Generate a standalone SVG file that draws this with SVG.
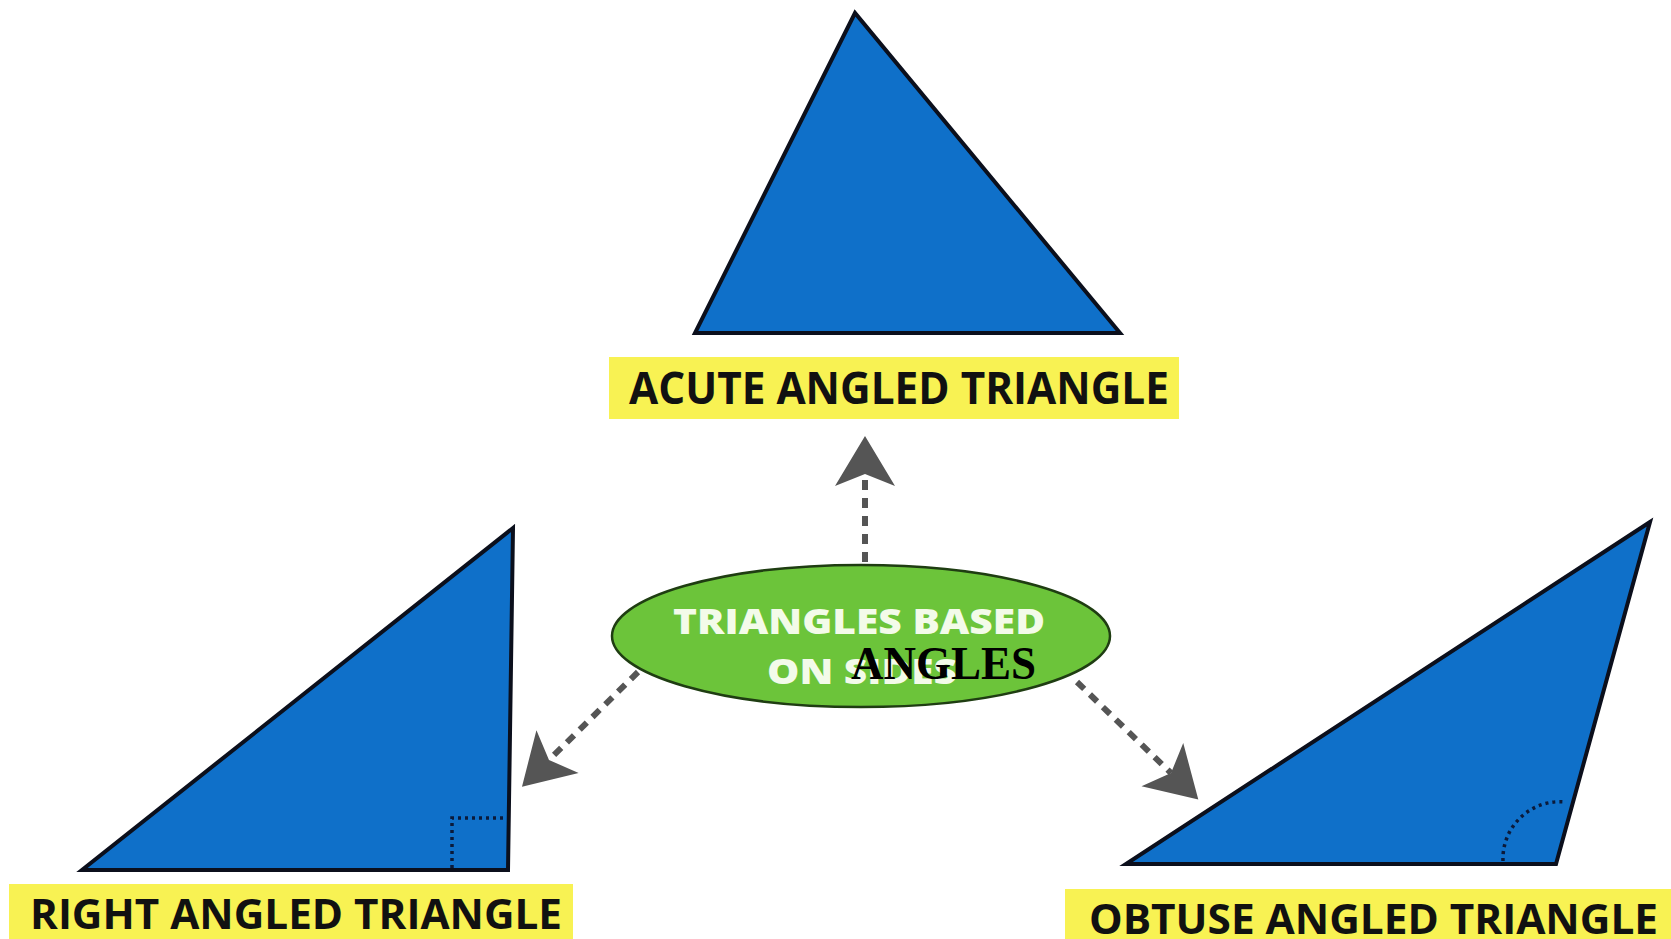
<svg xmlns="http://www.w3.org/2000/svg" width="1671" height="939" viewBox="0 0 1671 939">
<style>
.tri{fill:#0f70c9;stroke:#0b0f1c;stroke-width:4;stroke-linejoin:miter}
.lblbox{fill:#f8f253}
.lbl{font-family:"Open Sans","Liberation Sans",sans-serif;font-weight:bold;fill:#111;}
.conn{fill:none;stroke:#555;stroke-width:6;stroke-dasharray:10 8}
.mark{fill:none;stroke:#0b1a3a;stroke-width:3.5;stroke-dasharray:3 4}
.wt{font-family:"Open Sans","Liberation Sans",sans-serif;font-weight:800;fill:#f3fbe9;font-size:36px}
</style>
<defs>
<marker id="ah" markerUnits="userSpaceOnUse" viewBox="-52 -32 54 64" markerWidth="54" markerHeight="64" refX="-38" refY="0" orient="auto">
<path d="M0,0 L-50,-30 L-38,0 L-50,30 Z" fill="#555"/>
</marker>
</defs>
<rect width="1671" height="939" fill="#fff"/>
<g id="connectors">
<path class="conn" d="M865,562 L865,474" marker-end="url(#ah)"/>
<path class="conn" d="M638,672 L549,760" marker-end="url(#ah)"/>
<path class="conn" d="M1077,682 L1171,773" marker-end="url(#ah)"/>
</g>
<g id="acute">
<polygon class="tri" points="855,13 695,333 1120,333"/>
<rect class="lblbox" x="609" y="357" width="570" height="62"/>
<text class="lbl" x="629" y="404" font-size="44" textLength="540" lengthAdjust="spacingAndGlyphs">ACUTE ANGLED TRIANGLE</text>
</g>
<g id="right">
<polygon class="tri" points="513,528 82,870 508,870"/>
<path class="mark" d="M452,868 L452,818 L505,818"/>
<rect class="lblbox" x="9" y="884" width="564" height="55"/>
<text class="lbl" x="30" y="929" font-size="41" textLength="532" lengthAdjust="spacingAndGlyphs">RIGHT ANGLED TRIANGLE</text>
</g>
<g id="obtuse">
<polygon class="tri" points="1650,522 1126,864 1556,864"/>
<path class="mark" d="M1503,861 A57,57 0 0 1 1566,802"/>
<rect class="lblbox" x="1065" y="889" width="606" height="50"/>
<text class="lbl" x="1089" y="934" font-size="42" textLength="569" lengthAdjust="spacingAndGlyphs">OBTUSE ANGLED TRIANGLE</text>
</g>
<g id="center">
<ellipse cx="861" cy="636" rx="249" ry="71" fill="#6cc43a" stroke="#1f3d12" stroke-width="2.5"/>
<text class="wt" x="673" y="634" textLength="372" lengthAdjust="spacingAndGlyphs">TRIANGLES BASED</text>
<text class="wt" x="767" y="684" textLength="190" lengthAdjust="spacingAndGlyphs">ON SIDES</text>
<text x="851" y="679" font-family="'Liberation Serif',serif" font-weight="bold" font-size="47" fill="#000" textLength="185" lengthAdjust="spacingAndGlyphs">ANGLES</text>
</g>
</svg>
